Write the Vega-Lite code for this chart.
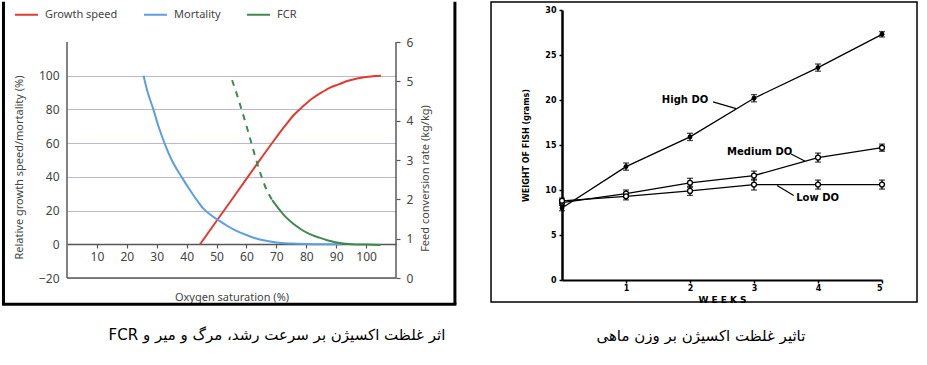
{
  "$schema": "https://vega.github.io/schema/vega-lite/v6.json",
  "padding": 0,
  "background": "white",
  "config": {"view": {"stroke": null}, "font": "Noto Sans", "axis": {"labelOverlap": false}},
  "datasets": {
    "one": [{}],
    "growth": [
      {"series": "Growth speed", "x": 44.5, "y": 0}, {"series": "Growth speed", "x": 50, "y": 13.8},
      {"series": "Growth speed", "x": 55, "y": 26.3}, {"series": "Growth speed", "x": 60, "y": 38.8},
      {"series": "Growth speed", "x": 65, "y": 51.3}, {"series": "Growth speed", "x": 70, "y": 63.5},
      {"series": "Growth speed", "x": 73, "y": 70.5}, {"series": "Growth speed", "x": 76, "y": 77},
      {"series": "Growth speed", "x": 79, "y": 82}, {"series": "Growth speed", "x": 82, "y": 86.5},
      {"series": "Growth speed", "x": 85, "y": 90}, {"series": "Growth speed", "x": 88, "y": 93},
      {"series": "Growth speed", "x": 91, "y": 95}, {"series": "Growth speed", "x": 94, "y": 97},
      {"series": "Growth speed", "x": 97, "y": 98.3}, {"series": "Growth speed", "x": 100, "y": 99.2},
      {"series": "Growth speed", "x": 103, "y": 99.8}, {"series": "Growth speed", "x": 105, "y": 100}
    ],
    "mort": [
      {"series": "Mortality", "x": 25.6, "y": 100}, {"series": "Mortality", "x": 27, "y": 90},
      {"series": "Mortality", "x": 28.8, "y": 80.5}, {"series": "Mortality", "x": 30.5, "y": 70.5},
      {"series": "Mortality", "x": 32.5, "y": 60.5}, {"series": "Mortality", "x": 35, "y": 50},
      {"series": "Mortality", "x": 38.3, "y": 40}, {"series": "Mortality", "x": 41, "y": 32.5},
      {"series": "Mortality", "x": 43.5, "y": 26}, {"series": "Mortality", "x": 45.7, "y": 21},
      {"series": "Mortality", "x": 48, "y": 17.5}, {"series": "Mortality", "x": 50.7, "y": 14.2},
      {"series": "Mortality", "x": 53.5, "y": 11}, {"series": "Mortality", "x": 56.3, "y": 8.3},
      {"series": "Mortality", "x": 60, "y": 5.5}, {"series": "Mortality", "x": 63, "y": 3.6},
      {"series": "Mortality", "x": 66.5, "y": 2.1}, {"series": "Mortality", "x": 70, "y": 1},
      {"series": "Mortality", "x": 75, "y": 0.4}, {"series": "Mortality", "x": 80, "y": 0.15},
      {"series": "Mortality", "x": 85, "y": 0.05}, {"series": "Mortality", "x": 92, "y": 0}
    ],
    "fcrSolid": [
      {"series": "FCR", "x": 68.6, "y": 1.98}, {"series": "FCR", "x": 71, "y": 1.74},
      {"series": "FCR", "x": 73, "y": 1.56}, {"series": "FCR", "x": 76, "y": 1.36},
      {"series": "FCR", "x": 78.6, "y": 1.22}, {"series": "FCR", "x": 81, "y": 1.12},
      {"series": "FCR", "x": 84.2, "y": 1.03}, {"series": "FCR", "x": 87, "y": 0.96},
      {"series": "FCR", "x": 89.7, "y": 0.91}, {"series": "FCR", "x": 95.3, "y": 0.86},
      {"series": "FCR", "x": 100, "y": 0.85}, {"series": "FCR", "x": 104.8, "y": 0.84}
    ],
    "fcrDash": [
      {"series": "FCR", "x": 55.2, "y": 5.03}, {"series": "FCR", "x": 57, "y": 4.62},
      {"series": "FCR", "x": 58.5, "y": 4.25}, {"series": "FCR", "x": 60, "y": 3.87},
      {"series": "FCR", "x": 61.5, "y": 3.47}, {"series": "FCR", "x": 63, "y": 3.07},
      {"series": "FCR", "x": 64.5, "y": 2.7}, {"series": "FCR", "x": 66.3, "y": 2.32},
      {"series": "FCR", "x": 68.6, "y": 1.98}
    ],
    "fish": [
      {"group": "High DO", "week": 0, "weight": 8.0, "err": 0.3},
      {"group": "High DO", "week": 1, "weight": 12.6, "err": 0.4},
      {"group": "High DO", "week": 2, "weight": 15.9, "err": 0.4},
      {"group": "High DO", "week": 3, "weight": 20.2, "err": 0.4},
      {"group": "High DO", "week": 4, "weight": 23.6, "err": 0.4},
      {"group": "High DO", "week": 5, "weight": 27.3, "err": 0.3},
      {"group": "Medium DO", "week": 0, "weight": 8.6, "err": 0.3},
      {"group": "Medium DO", "week": 1, "weight": 9.6, "err": 0.4},
      {"group": "Medium DO", "week": 2, "weight": 10.8, "err": 0.5},
      {"group": "Medium DO", "week": 3, "weight": 11.6, "err": 0.5},
      {"group": "Medium DO", "week": 4, "weight": 13.6, "err": 0.5},
      {"group": "Medium DO", "week": 5, "weight": 14.7, "err": 0.4},
      {"group": "Low DO", "week": 0, "weight": 8.8, "err": 0.3},
      {"group": "Low DO", "week": 1, "weight": 9.3, "err": 0.4},
      {"group": "Low DO", "week": 2, "weight": 9.9, "err": 0.5},
      {"group": "Low DO", "week": 3, "weight": 10.6, "err": 0.6},
      {"group": "Low DO", "week": 4, "weight": 10.6, "err": 0.5},
      {"group": "Low DO", "week": 5, "weight": 10.6, "err": 0.5}
    ],
    "notes": [
      {"label": "High DO", "tx": 1.56, "ty": 20.0, "x1": 2.36, "y1": 19.8, "x2": 2.72, "y2": 19.05},
      {"label": "Medium DO", "tx": 2.58, "ty": 14.2, "x1": 3.58, "y1": 14.0, "x2": 3.8, "y2": 13.2},
      {"label": "Low DO", "tx": 3.66, "ty": 9.15, "x1": 3.62, "y1": 9.4, "x2": 3.36, "y2": 10.5}
    ]
  },
  "bounds": "flush",
  "spacing": 166,
  "hconcat": [
    {
      "width": 329,
      "height": 268,
      "resolve": {"scale": {"y": "independent"}},
      "layer": [
        {
          "layer": [
            {
              "data": {"name": "one"},
              "mark": {"type": "rect", "fill": "white", "fillOpacity": 0},
              "encoding": {
                "x": {"datum": -21.74, "type": "quantitative"},
                "x2": {"datum": 130.2},
                "y": {"datum": 144.75, "type": "quantitative",
                  "scale": {"domain": [-20, 139], "nice": false, "zero": false},
                  "axis": {"values": [-20, 0, 20, 40, 60, 80, 100], "tickCount": 20, "format": "d", "domain": false, "ticks": false,
                    "labelOverlap": false, "grid": true, "gridColor": "#bdb6cc", "gridWidth": 1.2, "labelColor": "#444",
                    "labelFontSize": 12, "labelPadding": 8,
                    "title": "Relative growth speed/mortality (%)", "titleColor": "#444",
                    "titleFontSize": 11, "titleFontWeight": "normal", "titlePadding": 14, "titleY": 157}},
                "y2": {"datum": -35.6}
              }
            },
            {
              "data": {"name": "one"},
              "mark": {"type": "rule", "color": "#5a5a5a", "strokeWidth": 1.5},
              "encoding": {"x": {"datum": 0, "type": "quantitative"}, "y": {"datum": -20, "type": "quantitative"}, "y2": {"datum": 120}}
            },
            {
              "data": {"name": "one"},
              "mark": {"type": "rule", "color": "#5a5a5a", "strokeWidth": 1.5},
              "encoding": {"x": {"datum": 110, "type": "quantitative"}, "y": {"datum": -20, "type": "quantitative"}, "y2": {"datum": 120}}
            },
            {
              "data": {"name": "one"},
              "mark": {"type": "rule", "color": "#5a5a5a", "strokeWidth": 1.5},
              "encoding": {"x": {"datum": 0, "type": "quantitative"}, "x2": {"datum": 110}, "y": {"datum": -20, "type": "quantitative"}}
            },
            {
              "data": {"name": "one"},
              "mark": {"type": "rule", "color": "black", "strokeWidth": 3},
              "encoding": {"x": {"datum": -21.24, "type": "quantitative"}, "y": {"datum": 143.86, "type": "quantitative"}, "y2": {"datum": -35.6}}
            },
            {
              "data": {"name": "one"},
              "mark": {"type": "rule", "color": "black", "strokeWidth": 3},
              "encoding": {"x": {"datum": 129.7, "type": "quantitative"}, "y": {"datum": 143.86, "type": "quantitative"}, "y2": {"datum": -35.6}}
            },
            {
              "data": {"name": "one"},
              "mark": {"type": "rule", "color": "black", "strokeWidth": 3},
              "encoding": {"x": {"datum": -21.74, "type": "quantitative"}, "x2": {"datum": 130.2}, "y": {"datum": -35.6, "type": "quantitative"}}
            },
            {
              "data": {"name": "growth"},
              "mark": {"type": "line", "strokeWidth": 2, "interpolate": "monotone"},
              "encoding": {
                "x": {"field": "x", "type": "quantitative",
                  "scale": {"domain": [0, 110], "nice": false, "zero": false},
                  "axis": {"values": [10, 20, 30, 40, 50, 60, 70, 80, 90, 100], "tickCount": 20, "format": "d", "offset": -34,
                    "labelOverlap": false, "labelFlush": false, "labelBound": false,
                    "title": "Oxygen saturation (%)", "domainColor": "#555", "domainWidth": 1.5,
                    "tickColor": "#555", "tickSize": 4, "tickWidth": 1.2, "labelColor": "#444",
                    "labelFontSize": 12, "labelPadding": 3, "titleColor": "#444", "titleFontSize": 11,
                    "titleFontWeight": "normal", "titlePadding": 29, "grid": false}},
                "y": {"field": "y", "type": "quantitative"},
                "color": {"field": "series", "type": "nominal",
                  "scale": {"domain": ["Growth speed", "Mortality", "FCR"], "range": ["#e23b2e", "#5a9fe0", "#3d8a4f"]},
                  "legend": {"orient": "none", "legendX": -53, "legendY": -8, "direction": "horizontal",
                    "title": null, "symbolType": "stroke", "symbolSize": 529, "symbolStrokeWidth": 2,
                    "labelFontSize": 11, "labelColor": "#444", "labelOffset": 6, "columnPadding": 22}}
              }
            },
            {
              "data": {"name": "mort"},
              "mark": {"type": "line", "strokeWidth": 2, "interpolate": "monotone"},
              "encoding": {
                "x": {"field": "x", "type": "quantitative"},
                "y": {"field": "y", "type": "quantitative"},
                "color": {"field": "series", "type": "nominal"}
              }
            },
            {
              "data": {"name": "one"},
              "mark": {"type": "text", "text": "\u202bاثر غلظت اکسیژن بر سرعت رشد، مرگ و میر و FCR\u202c",
                "font": "DejaVu Sans", "fontSize": 15, "color": "black", "align": "center", "baseline": "middle"},
              "encoding": {"x": {"datum": 70.2, "type": "quantitative"}, "y": {"datum": -54, "type": "quantitative"}}
            }
          ]
        },
        {
          "layer": [
            {
              "data": {"name": "fcrSolid"},
              "mark": {"type": "line", "strokeWidth": 2, "interpolate": "monotone"},
              "encoding": {
                "x": {"field": "x", "type": "quantitative"},
                "y": {"field": "y", "type": "quantitative",
                  "scale": {"domain": [0, 6.814], "nice": false, "zero": false},
                  "axis": {"orient": "right", "values": [0, 1, 2, 3, 4, 5, 6], "tickCount": 20, "format": "d", "domain": false,
                    "labelOverlap": false, "tickColor": "#555", "tickSize": 4, "tickWidth": 1.2, "labelColor": "#444",
                    "labelFontSize": 12, "labelPadding": 6, "title": "Feed conversion rate (kg/kg)",
                    "titleAngle": 270, "titleColor": "#444", "titleFontSize": 11,
                    "titleFontWeight": "normal", "titlePadding": 18, "titleY": 168, "grid": false}},
                "color": {"field": "series", "type": "nominal"}
              }
            },
            {
              "data": {"name": "fcrDash"},
              "mark": {"type": "line", "strokeWidth": 2, "strokeDash": [6, 6], "interpolate": "monotone"},
              "encoding": {
                "x": {"field": "x", "type": "quantitative"},
                "y": {"field": "y", "type": "quantitative"},
                "color": {"field": "series", "type": "nominal"}
              }
            }
          ]
        }
      ]
    },
    {
      "width": 320,
      "height": 270,
      "layer": [
        {
          "data": {"name": "one"},
          "mark": {"type": "rect", "fill": null, "stroke": "black", "strokeWidth": 1.5},
          "encoding": {
            "x": {"datum": -1.109, "type": "quantitative", "title": "W E E K S",
              "scale": {"domain": [0, 5], "nice": false, "zero": false},
              "axis": {"values": [1, 2, 3, 4, 5], "tickCount": 20, "format": "d", "title": "W E E K S", "domainColor": "black",
                "domainWidth": 2, "tickColor": "black", "tickSize": 3, "tickWidth": 1.5,
                "labelFont": "DejaVu Sans", "labelFontWeight": "bold", "labelFontSize": 8,
                "labelColor": "black", "labelPadding": 1, "titleFont": "DejaVu Sans",
                "titleFontWeight": "bold", "titleFontSize": 9, "titleColor": "black",
                "titlePadding": 3, "grid": false}},
            "x2": {"datum": 5.547},
            "y": {"datum": 30.89, "type": "quantitative", "title": "WEIGHT OF FISH (grams)",
              "scale": {"domain": [0, 30], "nice": false, "zero": false},
              "axis": {"values": [0, 5, 10, 15, 20, 25, 30], "tickCount": 20, "format": "d", "title": "WEIGHT OF FISH (grams)",
                "domainColor": "black", "domainWidth": 2.5, "tickColor": "black", "tickSize": 3,
                "tickWidth": 1.5, "labelFont": "DejaVu Sans", "labelFontWeight": "bold",
                "labelFontSize": 8, "labelColor": "black", "labelPadding": 3,
                "titleFont": "DejaVu Sans", "titleFontWeight": "bold", "titleFontSize": 8,
                "titleColor": "black", "titlePadding": 14, "grid": false}},
            "y2": {"datum": -2.444}
          }
        },
        {
          "data": {"name": "fish"},
          "mark": {"type": "line", "color": "black", "strokeWidth": 1.3},
          "encoding": {
            "x": {"field": "week", "type": "quantitative", "title": "W E E K S"},
            "y": {"field": "weight", "type": "quantitative", "title": "WEIGHT OF FISH (grams)"},
            "detail": {"field": "group", "type": "nominal"}
          }
        },
        {
          "data": {"name": "fish"},
          "mark": {"type": "errorbar", "color": "black", "thickness": 1.3, "ticks": {"size": 6, "thickness": 1.3}},
          "encoding": {
            "x": {"field": "week", "type": "quantitative", "title": "W E E K S"},
            "y": {"field": "weight", "type": "quantitative", "title": "WEIGHT OF FISH (grams)"},
            "yError": {"field": "err"}
          }
        },
        {
          "data": {"name": "fish"},
          "transform": [{"filter": "datum.group === 'High DO'"}],
          "mark": {"type": "circle", "fill": "black", "size": 24, "opacity": 1},
          "encoding": {
            "x": {"field": "week", "type": "quantitative", "title": "W E E K S"},
            "y": {"field": "weight", "type": "quantitative", "title": "WEIGHT OF FISH (grams)"}
          }
        },
        {
          "data": {"name": "fish"},
          "transform": [{"filter": "datum.group !== 'High DO'"}],
          "mark": {"type": "circle", "fill": "white", "stroke": "black", "strokeWidth": 1.3, "size": 24, "opacity": 1},
          "encoding": {
            "x": {"field": "week", "type": "quantitative", "title": "W E E K S"},
            "y": {"field": "weight", "type": "quantitative", "title": "WEIGHT OF FISH (grams)"}
          }
        },
        {
          "data": {"name": "notes"},
          "mark": {"type": "rule", "color": "black", "strokeWidth": 1.2},
          "encoding": {
            "x": {"field": "x1", "type": "quantitative", "title": "W E E K S"},
            "y": {"field": "y1", "type": "quantitative", "title": "WEIGHT OF FISH (grams)"},
            "x2": {"field": "x2"},
            "y2": {"field": "y2"}
          }
        },
        {
          "data": {"name": "notes"},
          "mark": {"type": "text", "font": "DejaVu Sans", "fontWeight": "bold", "fontSize": 10,
            "color": "black", "align": "left", "baseline": "middle"},
          "encoding": {
            "x": {"field": "tx", "type": "quantitative", "title": "W E E K S"},
            "y": {"field": "ty", "type": "quantitative", "title": "WEIGHT OF FISH (grams)"},
            "text": {"field": "label"}
          }
        },
        {
          "data": {"name": "one"},
          "mark": {"type": "text", "text": "تاثیر غلظت اکسیژن بر وزن  ماهی",
            "font": "DejaVu Sans", "fontSize": 15, "color": "black", "align": "center", "baseline": "middle"},
          "encoding": {"x": {"datum": 2.17, "type": "quantitative"}, "y": {"datum": -6.22, "type": "quantitative"}}
        }
      ]
    }
  ]
}
